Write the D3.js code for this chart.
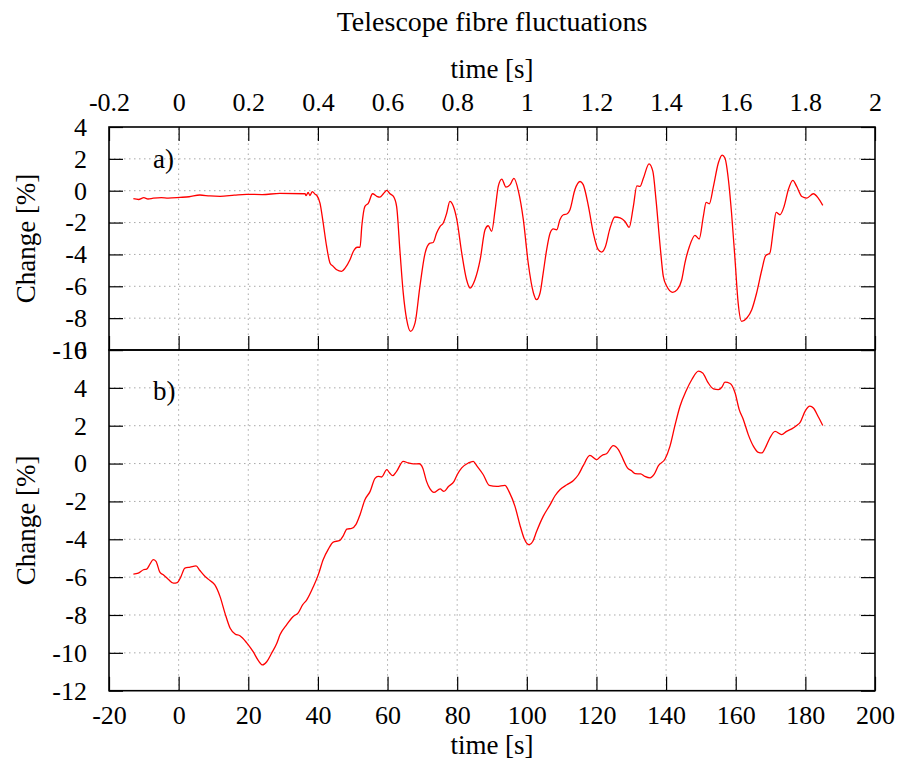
<!DOCTYPE html>
<html>
<head>
<meta charset="utf-8">
<script src="https://cdn.jsdelivr.net/npm/d3@7"></script>
<style>
  html, body { margin: 0; padding: 0; background: #fff; }
  svg { display: block; }
  text { font-family: "Liberation Serif", "Times New Roman", serif; fill: #000; }
</style>
</head>
<body>
<svg id="chart" width="897" height="766"></svg>
<script>
// Panel a: fibre signal versus time in seconds
const timeA = [-0.130, -0.115, -0.100, -0.088, -0.073, -0.050, -0.030, 0.004, 0.030, 0.061, 0.090, 0.119, 0.160, 0.195, 0.240, 0.291, 0.363, 0.366, 0.372, 0.377, 0.384, 0.392, 0.397,
  0.406, 0.415, 0.425, 0.435, 0.444, 0.454, 0.468, 0.478, 0.492, 0.502, 0.513, 0.521, 0.526, 0.535, 0.545, 0.557,
  0.569, 0.578, 0.588, 0.598, 0.607, 0.617, 0.626, 0.636, 0.645, 0.655, 0.666, 0.679, 0.693, 0.708, 0.722, 0.731,
  0.741, 0.751, 0.760, 0.770, 0.779, 0.789, 0.799, 0.813, 0.827, 0.837, 0.851, 0.866, 0.880, 0.889, 0.899, 0.909,
  0.918, 0.928, 0.940, 0.952, 0.963, 0.976, 0.990, 1.004, 1.019, 1.028, 1.038, 1.047, 1.057, 1.067, 1.076, 1.086,
  1.095, 1.105, 1.115, 1.124, 1.138, 1.153, 1.162, 1.177, 1.191, 1.205, 1.215, 1.225, 1.239, 1.253, 1.268, 1.282,
  1.294, 1.306, 1.316, 1.325, 1.335, 1.351, 1.362, 1.371, 1.383, 1.392, 1.402, 1.419, 1.432, 1.445, 1.454, 1.467,
  1.483, 1.495, 1.507, 1.515, 1.524, 1.536, 1.550, 1.561, 1.569, 1.579, 1.588, 1.598, 1.607, 1.617, 1.632, 1.646,
  1.660, 1.675, 1.686, 1.698, 1.708, 1.716, 1.727, 1.739, 1.751, 1.764, 1.775, 1.790, 1.804, 1.823, 1.837, 1.850];
const changeA = [-0.50, -0.55, -0.44, -0.52, -0.47, -0.43, -0.46, -0.42, -0.38, -0.27, -0.33, -0.35, -0.28, -0.23, -0.24, -0.17, -0.19, -0.31, -0.10, -0.30, -0.06, -0.22, -0.30,
  -0.78, -2.00, -3.50, -4.55, -4.75, -4.96, -5.06, -4.86, -4.33, -3.80, -3.55, -3.55, -2.24, -0.98, -0.78, -0.19,
  -0.35, -0.40, -0.19, 0.02, -0.19, -0.36, -0.98, -3.90, -6.40, -8.10, -8.83, -8.30, -6.00, -3.90, -3.29, -3.25,
  -2.66, -2.24, -2.03, -1.40, -0.67, -0.98, -1.82, -3.90, -5.59, -6.11, -5.59, -4.33, -2.45, -2.20, -2.55, -1.19,
  0.27, 0.73, 0.23, 0.38, 0.77, -0.04, -1.82, -4.54, -6.42, -6.84, -6.42, -5.17, -3.70, -2.66, -2.40, -2.45,
  -1.82, -1.51, -1.46, -1.19, 0.06, 0.58, 0.38, -0.98, -2.66, -3.70, -3.85, -3.55, -2.35, -1.65, -1.71, -1.93,
  -2.30, -0.98, 0.31, 0.27, 0.80, 1.69, 1.21, -0.56, -3.50, -5.38, -6.00, -6.38, -6.21, -5.59, -4.54, -3.50,
  -2.80, -3.03, -1.61, -0.73, -0.82, 0.27, 1.74, 2.24, 2.05, 0.69, -1.40, -4.33, -7.05, -8.20, -7.99, -7.47,
  -6.42, -4.96, -4.08, -3.92, -2.45, -1.36, -1.51, -0.98, 0.06, 0.65, 0.27, -0.36, -0.46, -0.19, -0.46, -0.92];

// Panel b: fibre signal versus time in seconds (long run)
const timeB = [-13.0, -11.6, -10.1, -9.2, -8.2, -7.3, -6.5, -5.4, -4.4, -3.0, -1.5, -0.4, 0.6, 1.8, 3.3, 5.0,
  6.1, 7.6, 9.0, 10.4, 11.9, 13.3, 14.8, 16.2, 17.6, 19.5, 21.4, 22.9, 24.1, 25.3, 26.7, 28.2, 29.1, 31.0, 32.9,
  34.4, 35.6, 36.8, 38.7, 40.1, 41.5, 43.0, 44.4, 46.3, 47.3, 48.3, 49.7, 50.9, 52.1, 53.5, 55.0, 56.4, 57.3,
  58.3, 59.8, 60.5, 61.5, 62.6, 64.5, 66.0, 67.4, 69.1, 70.1, 71.2, 72.2, 73.3, 75.1, 76.2, 77.5, 79.1, 80.0,
  81.3, 83.2, 84.6, 85.6, 87.5, 89.2, 91.4, 93.7, 95.0, 96.6, 98.0, 99.2, 100.7, 101.7, 102.8, 104.7, 106.7,
  108.1, 109.5, 111.5, 113.4, 114.8, 116.2, 118.1, 120.1, 121.0, 122.0, 122.9, 124.8, 126.3, 127.7, 128.9,
  130.1, 131.1, 132.7, 133.9, 135.4, 136.5, 137.8, 139.7, 141.1, 142.6, 144.0, 145.7, 147.4, 149.3, 150.5,
  152.1, 153.6, 155.0, 156.0, 156.9, 158.4, 159.8, 161.0, 162.2, 163.6, 165.1, 166.5, 167.5, 168.7, 169.8,
  171.3, 173.2, 174.6, 176.1, 177.5, 178.5, 179.9, 181.3, 182.3, 183.7, 185.0];
const changeB = [-5.84, -5.79, -5.61, -5.58, -5.30, -5.08, -5.17, -5.74, -5.88, -6.11, -6.32, -6.29, -6.00,
  -5.52, -5.47, -5.40, -5.65, -5.97, -6.18, -6.41, -7.03, -7.90, -8.70, -9.00, -9.10, -9.46, -9.94, -10.41,
  -10.64, -10.47, -10.02, -9.49, -9.05, -8.52, -8.08, -7.87, -7.47, -7.20, -6.50, -5.88, -5.08, -4.52, -4.15,
  -4.06, -3.81, -3.46, -3.43, -3.23, -2.70, -1.91, -1.47, -0.78, -0.68, -0.71, -0.32, -0.47, -0.64, -0.41,
  0.12, 0.03, -0.02, -0.01, -0.23, -0.94, -1.34, -1.52, -1.34, -1.47, -1.21, -0.94, -0.59, -0.23, 0.03, 0.12,
  -0.11, -0.59, -1.15, -1.21, -1.15, -1.52, -2.26, -3.23, -3.94, -4.29, -4.12, -3.59, -2.79, -2.17, -1.70,
  -1.38, -1.12, -0.89, -0.59, -0.11, 0.43, 0.21, 0.35, 0.47, 0.52, 0.95, 0.74, 0.21, -0.23, -0.38, -0.53,
  -0.55, -0.68, -0.76, -0.59, -0.11, 0.24, 0.91, 2.06, 3.03, 3.82, 4.44, 4.88, 4.79, 4.26, 3.95, 3.91, 4.03,
  4.30, 4.23, 3.74, 2.85, 2.32, 1.53, 0.91, 0.59, 0.56, 0.91, 1.35, 1.70, 1.53, 1.70, 1.83, 2.01, 2.18, 2.76,
  3.03, 2.94, 2.47, 2.01];

// Tick values
const ticksSeconds = [-0.2, 0, 0.2, 0.4, 0.6, 0.8, 1, 1.2, 1.4, 1.6, 1.8, 2];
const ticksLong = [-20, 0, 20, 40, 60, 80, 100, 120, 140, 160, 180, 200];
const ticksChangeA = [-10, -8, -6, -4, -2, 0, 2, 4];
const ticksChangeB = [-12, -10, -8, -6, -4, -2, 0, 2, 4, 6];

const titleText = "Telescope fibre fluctuations";
const xLabel = "time [s]";
const yLabel = "Change [%]";

const svg = d3.select("#chart");
const left = 109, right = 875;
const aTop = 127, aBottom = 350;
const bTop = 350, bBottom = 690.7;
const tickLen = 14;
const tickFont = 26;
const labelFont = 27;

const xA = d3.scaleLinear().domain([-0.2, 2]).range([left, right]);
const yA = d3.scaleLinear().domain([-10, 4]).range([aBottom, aTop]);
const xB = d3.scaleLinear().domain([-20, 200]).range([left, right]);
const yB = d3.scaleLinear().domain([-12, 6]).range([bBottom, bTop]);

const fmt = d => String(+d.toFixed(1));

function grid(xs, ys, xTicks, yTicks) {
  const g = svg.append("g")
    .attr("stroke", "#a8a8a8")
    .attr("stroke-width", 1)
    .attr("stroke-dasharray", "1.5,3.5");
  const [x0, x1] = xs.range();
  const [y0, y1] = ys.range();
  g.selectAll("line.v").data(xTicks.filter(t => t > xs.domain()[0] && t < xs.domain()[1]))
    .join("line").attr("class", "v")
    .attr("x1", d => xs(d)).attr("x2", d => xs(d))
    .attr("y1", y0).attr("y2", y1);
  g.selectAll("line.h").data(yTicks.filter(t => t > ys.domain()[0] && t < ys.domain()[1]))
    .join("line").attr("class", "h")
    .attr("y1", d => ys(d)).attr("y2", d => ys(d))
    .attr("x1", x0).attr("x2", x1);
}

grid(xA, yA, ticksSeconds, ticksChangeA);
grid(xB, yB, ticksLong, ticksChangeB);

function styleAxis(g) {
  g.select(".domain").remove();
  g.selectAll(".tick line").attr("stroke", "#000").attr("stroke-width", 1.2);
  g.selectAll(".tick text")
    .attr("font-size", tickFont)
    .attr("font-family", "'Liberation Serif', serif")
    .attr("fill", "#000");
}

// Panel a axes
svg.append("g").attr("transform", `translate(0,${aTop})`)
  .call(d3.axisTop(xA).tickValues(ticksSeconds).tickFormat(fmt).tickSize(-tickLen).tickPadding(16))
  .call(styleAxis);
svg.append("g").attr("transform", `translate(0,${aBottom})`)
  .call(d3.axisBottom(xA).tickValues(ticksSeconds).tickFormat("").tickSize(-tickLen))
  .call(styleAxis);
svg.append("g").attr("transform", `translate(${left},0)`)
  .call(d3.axisLeft(yA).tickValues(ticksChangeA).tickFormat(fmt).tickSize(-tickLen).tickPadding(22))
  .call(styleAxis);
svg.append("g").attr("transform", `translate(${right},0)`)
  .call(d3.axisRight(yA).tickValues(ticksChangeA).tickFormat("").tickSize(-tickLen))
  .call(styleAxis);

// Panel b axes
svg.append("g").attr("transform", `translate(0,${bBottom})`)
  .call(d3.axisBottom(xB).tickValues(ticksLong).tickFormat(fmt).tickSize(-tickLen).tickPadding(15))
  .call(styleAxis);
svg.append("g").attr("transform", `translate(${left},0)`)
  .call(d3.axisLeft(yB).tickValues(ticksChangeB).tickFormat(fmt).tickSize(-tickLen).tickPadding(22))
  .call(styleAxis);
svg.append("g").attr("transform", `translate(${right},0)`)
  .call(d3.axisRight(yB).tickValues(ticksChangeB).tickFormat("").tickSize(-tickLen))
  .call(styleAxis);

// Data lines
const lineA = d3.line().x(i => xA(timeA[i])).y(i => yA(changeA[i])).curve(d3.curveMonotoneX);
const lineB = d3.line().x(i => xB(timeB[i])).y(i => yB(changeB[i])).curve(d3.curveMonotoneX);

svg.append("path").attr("d", lineA(d3.range(timeA.length)))
  .attr("fill", "none").attr("stroke", "#ff0000").attr("stroke-width", 1.3).attr("stroke-linejoin", "round");
svg.append("path").attr("d", lineB(d3.range(timeB.length)))
  .attr("fill", "none").attr("stroke", "#ff0000").attr("stroke-width", 1.3).attr("stroke-linejoin", "round");

// Frames
[[aTop, aBottom], [bTop, bBottom]].forEach(([t, b]) => {
  svg.append("rect").attr("x", left).attr("y", t)
    .attr("width", right - left).attr("height", b - t)
    .attr("fill", "none").attr("stroke", "#000").attr("stroke-width", 1.6);
});

// Panel tags
svg.append("text").attr("x", left + 44).attr("y", 168).attr("font-size", labelFont).text("a)");
svg.append("text").attr("x", left + 44).attr("y", 400).attr("font-size", labelFont).text("b)");

// Titles and axis labels
const cx = (left + right) / 2;
svg.append("text").attr("x", cx).attr("y", 31).attr("text-anchor", "middle")
  .attr("font-size", 28).text(titleText);
svg.append("text").attr("x", cx).attr("y", 78).attr("text-anchor", "middle")
  .attr("font-size", labelFont).text(xLabel);
svg.append("text").attr("x", cx).attr("y", 754).attr("text-anchor", "middle")
  .attr("font-size", labelFont).text(xLabel);

svg.append("text")
  .attr("transform", `translate(35,${(aTop + aBottom) / 2}) rotate(-90)`)
  .attr("text-anchor", "middle").attr("font-size", labelFont).text(yLabel);
svg.append("text")
  .attr("transform", `translate(35,${(bTop + bBottom) / 2}) rotate(-90)`)
  .attr("text-anchor", "middle").attr("font-size", labelFont).text(yLabel);
</script>
</body>
</html>
